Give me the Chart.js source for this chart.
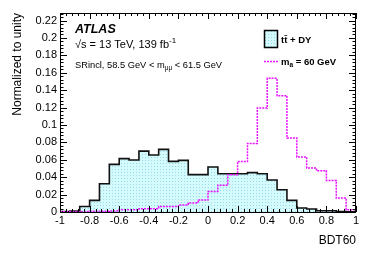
<!DOCTYPE html>
<html>
<head>
<meta charset="utf-8">
<script src="https://cdn.jsdelivr.net/npm/chart.js@4.4.1/dist/chart.umd.min.js"></script>
<style>
  html, body { margin: 0; padding: 0; background: #fff; }
</style>
</head>
<body>
<canvas id="bdt" width="374" height="253"></canvas>
<script>
// BDT60 histogram, 30 bins from -1 to 1
const xLow = -1;
const xHigh = 1;
const nBins = 30;

// tt + DY, normalised to unity
const bkgValues = [
  0.0005, 0.0010, 0.0064, 0.0134, 0.0325, 0.0547, 0.0613, 0.0597, 0.0700, 0.0655,
  0.0720, 0.0582, 0.0593, 0.0429, 0.0429, 0.0517, 0.0440, 0.0440, 0.0440, 0.0452,
  0.0440, 0.0368, 0.0256, 0.0134, 0.0046, 0.0034, 0.0015, 0.0015, 0.0005, 0.0002
];

// signal m_a = 60 GeV
const sigValues = [
  0.0003, 0.0005, 0.0006, 0.0008, 0.0010, 0.0012, 0.0025, 0.0025, 0.0038, 0.0038,
  0.0062, 0.0062, 0.0080, 0.0103, 0.0138, 0.0237, 0.0306, 0.0429, 0.0580, 0.0788,
  0.1195, 0.1536, 0.1337, 0.0850, 0.0632, 0.0506, 0.0475, 0.0363, 0.0160, 0.0026
];

const xTicks = [-1, -0.8, -0.6, -0.4, -0.2, 0, 0.2, 0.4, 0.6, 0.8, 1];
const yTicks = [0, 0.02, 0.04, 0.06, 0.08, 0.1, 0.12, 0.14, 0.16, 0.18, 0.2, 0.22];
const yMax = 0.2287;

const FONT = '"Liberation Sans", Arial, sans-serif';
const magenta = 'rgb(232, 20, 255)';

// dotted light cyan fill, like the ROOT fill style
function dotFill() {
  const c = document.createElement('canvas');
  c.width = 3; c.height = 3;
  const g = c.getContext('2d');
  g.fillStyle = 'rgb(212, 250, 252)';
  g.fillRect(0, 0, 3, 3);
  g.fillStyle = 'rgb(150, 220, 236)';
  g.fillRect(1, 1, 1, 1);
  return g.createPattern(c, 'repeat');
}
const fillCyan = dotFill();

// left edge of each bin + closing point at xHigh (stepped 'before')
function histPoints(values) {
  const w = (xHigh - xLow) / nBins;
  const pts = values.map((v, i) => ({x: xLow + i * w, y: v}));
  pts.push({x: xHigh, y: 0});
  return pts;
}

function richText(ctx, x, y, parts) {
  ctx.textAlign = 'left';
  ctx.textBaseline = 'alphabetic';
  let cx = x;
  for (const p of parts) {
    ctx.font = (p.style || '') + ' ' + p.size + 'px ' + FONT;
    ctx.fillText(p.t, cx, y + (p.dy || 0));
    cx += ctx.measureText(p.t).width + (p.gap || 0);
  }
}

const frameAndLabels = {
  id: 'frameAndLabels',
  afterDatasetsDraw(chart) {
    const ctx = chart.ctx;
    const a = chart.chartArea;
    const xs = chart.scales.x, ys = chart.scales.y;
    ctx.save();
    ctx.strokeStyle = '#000';
    ctx.lineWidth = 1;
    ctx.strokeRect(a.left + 0.5, a.top + 0.5, a.right - a.left - 1, a.bottom - a.top);

    ctx.beginPath();
    // x ticks, bottom and top
    for (let k = 0; k <= 50; k++) {
      const px = Math.round(xs.getPixelForValue(-1 + k * 0.04)) + 0.5;
      const len = k % 5 === 0 ? 6 : 3;
      ctx.moveTo(px, a.bottom); ctx.lineTo(px, a.bottom - len);
      ctx.moveTo(px, a.top); ctx.lineTo(px, a.top + len);
    }
    // y ticks, left and right
    for (let k = 0; k * 0.004 <= yMax; k++) {
      const py = Math.round(ys.getPixelForValue(k * 0.004)) + 0.5;
      const len = k % 5 === 0 ? 7 : 3.5;
      ctx.moveTo(a.left, py); ctx.lineTo(a.left + len, py);
      ctx.moveTo(a.right, py); ctx.lineTo(a.right - len, py);
    }
    ctx.stroke();

    ctx.fillStyle = '#000';
    richText(ctx, 75, 33, [{t: 'ATLAS', size: 12.5, style: 'italic bold'}]);
    richText(ctx, 75, 47.5, [
      {t: '\u221As = 13 TeV, 139 fb', size: 11},
      {t: '-1', size: 8, dy: -4.5}
    ]);
    richText(ctx, 75, 67.5, [
      {t: 'SRincl, 58.5 GeV < m', size: 9.3},
      {t: '\u03bc\u03bc', size: 6.5, dy: 2.5},
      {t: ' < 61.5 GeV', size: 9.3}
    ]);

    // legend
    ctx.fillStyle = fillCyan;
    ctx.fillRect(264, 30, 13, 17);
    ctx.strokeStyle = '#000';
    ctx.lineWidth = 1.5;
    ctx.strokeRect(264.5, 30.5, 13, 17);
    ctx.fillStyle = '#000';
    richText(ctx, 281, 43.3, [{t: 'tt\u0304 + DY', size: 9.5, style: 'bold'}]);

    ctx.strokeStyle = magenta;
    ctx.lineWidth = 1.5;
    ctx.setLineDash([2, 1]);
    ctx.beginPath();
    ctx.moveTo(264, 61.5); ctx.lineTo(278, 61.5);
    ctx.stroke();
    ctx.setLineDash([]);
    richText(ctx, 281, 65, [
      {t: 'm', size: 9.5, style: 'bold'},
      {t: 'a', size: 6.5, style: 'bold', dy: 2},
      {t: ' = 60 GeV', size: 9.5, style: 'bold'}
    ]);
    ctx.restore();
  }
};

new Chart(document.getElementById('bdt'), {
  type: 'line',
  data: {
    datasets: [
      {
        label: 'm_a = 60 GeV',
        data: histPoints(sigValues),
        stepped: 'before',
        borderColor: magenta,
        borderWidth: 1.5,
        borderDash: [2, 1],
        pointRadius: 0,
        fill: false,
        order: 0
      },
      {
        label: 'tt + DY',
        data: histPoints(bkgValues),
        stepped: 'before',
        borderColor: '#111',
        borderWidth: 1.6,
        backgroundColor: fillCyan,
        pointRadius: 0,
        fill: 'origin',
        order: 1
      }
    ]
  },
  options: {
    responsive: false,
    animation: false,
    layout: { padding: { left: 0, right: 18, top: 13, bottom: 0 } },
    plugins: {
      legend: { display: false },
      tooltip: { enabled: false }
    },
    scales: {
      x: {
        type: 'linear',
        min: xLow,
        max: xHigh,
        grid: { display: false, drawTicks: false },
        border: { display: false },
        afterBuildTicks: s => { s.ticks = xTicks.map(v => ({value: v})); },
        afterFit: s => { s.height = 41; },
        ticks: {
          autoSkip: false,
          maxRotation: 0,
          padding: 2,
          color: '#000',
          font: { family: FONT, size: 11 },
          callback: v => String(+(+v).toFixed(1))
        },
        title: {
          display: true,
          text: 'BDT60',
          align: 'end',
          color: '#000',
          font: { family: FONT, size: 12 },
          padding: { top: 0, bottom: 5 }
        }
      },
      y: {
        min: 0,
        max: yMax,
        grid: { display: false, drawTicks: false },
        border: { display: false },
        afterBuildTicks: s => { s.ticks = yTicks.map(v => ({value: v})); },
        afterFit: s => { s.width = 60; },
        ticks: {
          autoSkip: false,
          padding: 3,
          color: '#000',
          font: { family: FONT, size: 11 },
          callback: v => String(+(+v).toFixed(2))
        },
        title: {
          display: true,
          text: 'Normalized to unity',
          align: 'end',
          color: '#000',
          font: { family: FONT, size: 12 },
          padding: { top: 10, bottom: 0 }
        }
      }
    }
  },
  plugins: [frameAndLabels]
});
</script>
</body>
</html>
